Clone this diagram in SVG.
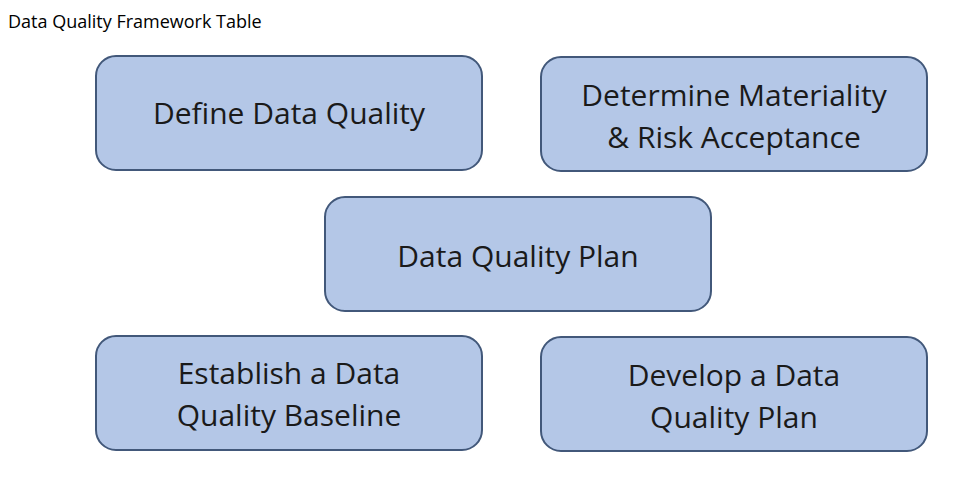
<svg xmlns="http://www.w3.org/2000/svg" width="979" height="498" viewBox="0 0 979 498">
<style>
.b{fill:#b4c7e7;stroke:#42587a;stroke-width:2}
.t{font-family:"Open Sans","DejaVu Sans",sans-serif;font-size:30px;fill:#1a1a1a;text-anchor:middle}
.h{font-family:"Open Sans","Liberation Sans",sans-serif;font-size:18px;fill:#000}
</style>
<rect width="979" height="498" fill="#fff"/>
<text class="h" x="8" y="28">Data Quality Framework Table</text>
<g id="connectors"/>
<g id="n1"><rect class="b" x="96" y="56" width="386" height="114" rx="20"/><text class="t" x="289" y="124">Define Data Quality</text></g>
<g id="n2"><rect class="b" x="541" y="57" width="386" height="114" rx="20"/><text class="t" x="734" y="106">Determine Materiality</text><text class="t" x="734" y="148">&amp; Risk Acceptance</text></g>
<g id="n3"><rect class="b" x="325" y="197" width="386" height="114" rx="20"/><text class="t" x="518" y="267">Data Quality Plan</text></g>
<g id="n4"><rect class="b" x="96" y="336" width="386" height="114" rx="20"/><text class="t" x="289" y="384">Establish a Data</text><text class="t" x="289" y="426">Quality Baseline</text></g>
<g id="n5"><rect class="b" x="541" y="337" width="386" height="114" rx="20"/><text class="t" x="734" y="386">Develop a Data</text><text class="t" x="734" y="428">Quality Plan</text></g>
</svg>
